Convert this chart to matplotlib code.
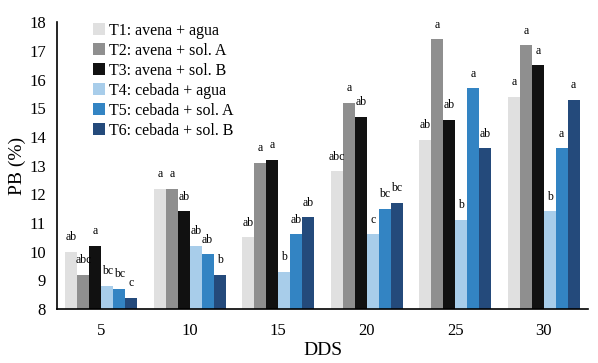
import matplotlib
matplotlib.use("Agg")
import matplotlib.pyplot as plt
import numpy as np

categories = ["5", "10", "15", "20", "25", "30"]
series_names = ["T1: avena + agua", "T2: avena + sol. A", "T3: avena + sol. B",
                "T4: cebada + agua", "T5: cebada + sol. A", "T6: cebada + sol. B"]
T1 = [10.0, 12.2, 10.5, 12.8, 13.9, 15.4]
T2 = [9.2, 12.2, 13.1, 15.2, 17.4, 17.2]
T3 = [10.2, 11.4, 13.2, 14.7, 14.6, 16.5]
T4 = [8.8, 10.2, 9.3, 10.6, 11.1, 11.4]
T5 = [8.7, 9.9, 10.6, 11.5, 15.7, 13.6]
T6 = [8.4, 9.2, 11.2, 11.7, 13.6, 15.3]
L1 = ["ab", "a", "ab", "abc", "ab", "a"]
L2 = ["abc", "a", "a", "a", "a", "a"]
L3 = ["a", "ab", "a", "ab", "ab", "a"]
L4 = ["bc", "ab", "b", "c", "b", "b"]
L5 = ["bc", "ab", "ab", "bc", "a", "a"]
L6 = ["c", "b", "ab", "bc", "ab", "a"]
yticks = [8, 9, 10, 11, 12, 13, 14, 15, 16, 17, 18]

colors = ["#e0e0e0", "#8f8f8f", "#111111", "#a8cdea", "#3384c3", "#244a7b"]
values = [T1, T2, T3, T4, T5, T6]
letters = [L1, L2, L3, L4, L5, L6]

plt.rcParams['font.family'] = ['Liberation Serif', 'DejaVu Serif']

fig = plt.figure(figsize=(5.98, 3.63), dpi=100)
ax = fig.add_axes([0.0953, 0.1488, 0.888, 0.790])

x = np.arange(len(categories))
w = 0.135
for i, (vals, labs) in enumerate(zip(values, letters)):
    pos = x + (i - 2.5) * w
    ax.bar(pos, np.array(vals) - 8, width=w, bottom=8, color=colors[i],
           label=series_names[i], zorder=2)
    for p, v, t in zip(pos, vals, labs):
        ax.text(p, v + 0.3, t, ha="center", va="bottom", fontsize=8.5)

ax.set_xlim(-0.5, 5.5)
ax.set_ylim(8, 18)
ax.set_yticks(yticks)
ax.set_xticks(x)
ax.set_xticklabels(categories)
ax.tick_params(axis="both", length=0, labelsize=12)
ax.tick_params(axis="x", pad=10)
ax.tick_params(axis="y", pad=8)
for s in ["top", "right"]:
    ax.spines[s].set_visible(False)
ax.spines["left"].set_linewidth(1.2)
ax.spines["bottom"].set_linewidth(1.2)
ax.set_ylabel("PB (%)", fontsize=14, labelpad=2)
ax.set_xlabel("DDS", fontsize=14, labelpad=2)

leg = ax.legend(loc="upper left", bbox_to_anchor=(0.055, 1.02), frameon=False,
                fontsize=11.5, handlelength=0.8, handleheight=0.8,
                handletextpad=0.2, labelspacing=0.25, borderaxespad=0)

fig.savefig("out.png", dpi=100)
